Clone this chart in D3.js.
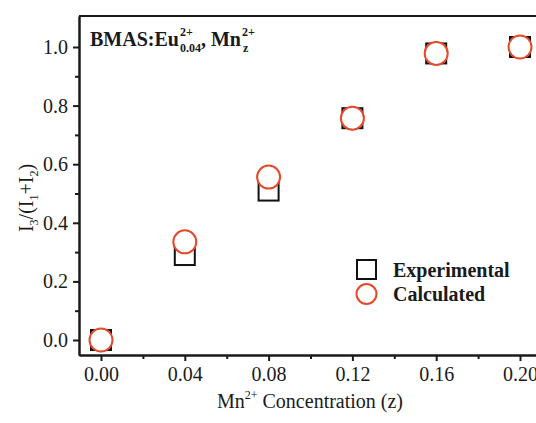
<!DOCTYPE html>
<html lang="en">
<head>
<meta charset="utf-8">
<title>Mn concentration</title>
<script src="https://cdn.jsdelivr.net/npm/d3@7"></script>
<style>
  body { margin: 0; background: #fff; }
  text { font-family: "Liberation Serif", "Times New Roman", serif; fill: #1a1a1a; }
  .axis path, .axis line { stroke: #1a1a1a; stroke-width: 2px; }
  .axis text { font-size: 20px; font-family: "Liberation Serif", serif; fill: #1a1a1a; }
</style>
</head>
<body>
<div id="chart"></div>
<script>
// data
var conc = [0.00, 0.04, 0.08, 0.12, 0.16, 0.20];
var experimental = [0.00, 0.29, 0.51, 0.757, 0.978, 1.00];
var calculated = [0.00, 0.335, 0.556, 0.757, 0.978, 1.00];
var xTicks = [0.00, 0.04, 0.08, 0.12, 0.16, 0.20];
var yTicks = [0.0, 0.2, 0.4, 0.6, 0.8, 1.0];

(function() {
var W = 536, H = 423;
var mLeft = 79, mTop = 16, mBottom = 355, mRight = 542;
var red = "#e4492b";

var svg = d3.select("#chart").append("svg")
  .attr("width", W).attr("height", H);

var x = d3.scaleLinear().domain([-0.0105, 0.2105]).range([mLeft, mRight]);
var y = d3.scaleLinear().domain([-0.0512, 1.1058]).range([mBottom, mTop]);

// minor ticks
var xMinor = [0.02, 0.06, 0.10, 0.14, 0.18];
var yMinor = [0.1, 0.3, 0.5, 0.7, 0.9];

svg.append("g").attr("class", "axis")
  .attr("transform", "translate(0," + mBottom + ")")
  .call(d3.axisBottom(x).tickValues(xMinor).tickSize(4).tickSizeOuter(0).tickFormat(""));
svg.append("g").attr("class", "axis")
  .attr("transform", "translate(0," + mBottom + ")")
  .call(d3.axisBottom(x).tickValues(xTicks).tickSize(6).tickSizeOuter(0).tickPadding(6)
    .tickFormat(d3.format(".2f")));

svg.append("g").attr("class", "axis")
  .attr("transform", "translate(" + mLeft + ",0)")
  .call(d3.axisLeft(y).tickValues(yMinor).tickSize(4).tickSizeOuter(0).tickFormat(""));
svg.append("g").attr("class", "axis")
  .attr("transform", "translate(" + mLeft + ",0)")
  .call(d3.axisLeft(y).tickValues(yTicks).tickSize(6).tickSizeOuter(0).tickPadding(5)
    .tickFormat(d3.format(".1f")));

// frame top and right
svg.append("line").attr("x1", mLeft).attr("x2", mRight).attr("y1", mTop).attr("y2", mTop)
  .attr("stroke", "#1a1a1a").attr("stroke-width", 2);
svg.append("line").attr("x1", mRight).attr("x2", mRight).attr("y1", mTop).attr("y2", mBottom)
  .attr("stroke", "#1a1a1a").attr("stroke-width", 2);

// points
var sq = 20;
svg.append("g").selectAll("rect")
  .data(conc)
  .enter().append("rect")
  .attr("x", function(d) { return x(d) - sq / 2; })
  .attr("y", function(d, i) { return y(experimental[i]) - sq / 2; })
  .attr("width", sq).attr("height", sq)
  .attr("fill", "none").attr("stroke", "#111").attr("stroke-width", 2);

svg.append("g").selectAll("circle")
  .data(conc)
  .enter().append("circle")
  .attr("cx", function(d) { return x(d); })
  .attr("cy", function(d, i) { return y(calculated[i]); })
  .attr("r", 11.5)
  .attr("fill", "#fff").attr("stroke", red).attr("stroke-width", 2);

// legend
var lg = svg.append("g");
lg.append("rect").attr("x", 357).attr("y", 260).attr("width", 19).attr("height", 19)
  .attr("fill", "none").attr("stroke", "#111").attr("stroke-width", 2);
lg.append("circle").attr("cx", 366.5).attr("cy", 294).attr("r", 10)
  .attr("fill", "#fff").attr("stroke", red).attr("stroke-width", 2);
lg.append("text").attr("x", 393).attr("y", 277).text("Experimental")
  .style("font-size", "20px").style("font-weight", "bold");
lg.append("text").attr("x", 393).attr("y", 301).text("Calculated")
  .style("font-size", "20px").style("font-weight", "bold");

// title with stacked super/subscripts
var tg = svg.append("g").style("font-weight", "bold");
var tx = 90, tb = 46;
function piece(str, dx, dy, size) {
  var t = tg.append("text").attr("x", tx + dx).attr("y", tb + dy)
    .style("font-size", size + "px").text(str);
  return t.node().getComputedTextLength();
}
var w = piece("BMAS:Eu", 0, 0, 20);
var w2 = Math.max(piece("2+", w + 1, -10, 12), piece("0.04", w + 1, 6, 12));
w = w + 1 + w2;
w += piece(", Mn", w, 0, 20);
piece("2+", w + 1, -10, 12);
piece("z", w + 2, 6, 12);

// x label
var xl = svg.append("text").attr("x", 310).attr("y", 408).attr("text-anchor", "middle")
  .style("font-size", "20px");
xl.append("tspan").text("Mn");
xl.append("tspan").attr("dy", -9).style("font-size", "12px").text("2+");
xl.append("tspan").attr("dy", 9).text(" Concentration (z)");

// y label
var yl = svg.append("text").attr("transform", "translate(33,198) rotate(-90)")
  .attr("text-anchor", "middle").style("font-size", "20px");
yl.append("tspan").text("I");
yl.append("tspan").attr("dy", 5).style("font-size", "12px").text("3");
yl.append("tspan").attr("dy", -5).text("/(I");
yl.append("tspan").attr("dy", 5).style("font-size", "12px").text("1");
yl.append("tspan").attr("dy", -5).text("+I");
yl.append("tspan").attr("dy", 5).style("font-size", "12px").text("2");
yl.append("tspan").attr("dy", -5).text(")");
})();
</script>
</body>
</html>
